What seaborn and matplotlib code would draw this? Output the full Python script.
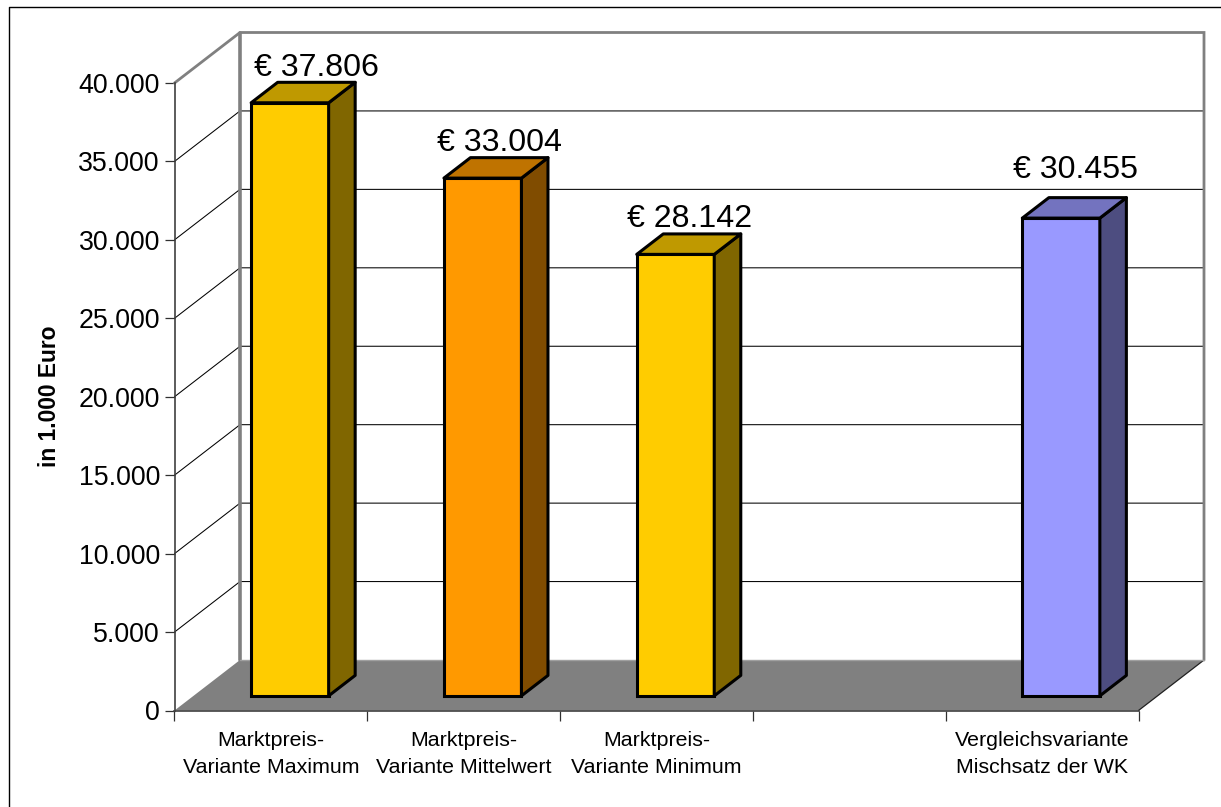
import matplotlib
matplotlib.use("Agg")
import matplotlib.pyplot as plt
import numpy as np
import pandas as pd
import seaborn as sns
from matplotlib.lines import Line2D
from matplotlib.patches import Polygon
from matplotlib.transforms import Affine2D, IdentityTransform

sns.set_theme(style="white")
plt.rcParams["font.family"] = ["Liberation Sans", "DejaVu Sans"]

categories = ["Marktpreis-\nVariante Maximum", "Marktpreis-\nVariante Mittelwert",
              "Marktpreis-\nVariante Minimum", " ",
              "Vergleichsvariante\nMischsatz der WK"]
values = [37806, 33004, 28142, np.nan, 30455]
value_labels = ["€ 37.806", "€ 33.004", "€ 28.142", "", "€ 30.455"]
front_colors = ["#FFCC00", "#FF9900", "#FFCC00", "#FFCC00", "#9999FF"]
top_colors = ["#BF9900", "#BF7300", "#BF9900", "#BF9900", "#7373BF"]
side_colors = ["#806600", "#804C00", "#806600", "#806600", "#4D4D80"]
y_ticks = [0, 5000, 10000, 15000, 20000, 25000, 30000, 35000, 40000]
y_tick_labels = ["0", "5.000", "10.000", "15.000", "20.000", "25.000", "30.000", "35.000", "40.000"]
y_title = "in 1.000 Euro"

W, H = 1221, 807
fig = plt.figure(figsize=(W / 100, H / 100), dpi=100, facecolor="white")
ax = fig.add_axes([174.5 / W, (H - 710.5) / H, 964 / W, 627.5 / H])
ax.patch.set_alpha(0)

df = pd.DataFrame({"cat": categories, "val": values})
sns.barplot(data=df, x="cat", y="val", hue="cat", order=categories, hue_order=categories,
            palette=front_colors, width=0.402, legend=False, dodge=False, ax=ax,
            edgecolor="black", linewidth=2.2, saturation=1, zorder=5)
ax.set_xlim(-0.5, 4.5)
ax.set_ylim(0, 40000)
ax.set_yticks(y_ticks)
ax.set_yticklabels(y_tick_labels, fontsize=19.3, color="black")
ax.set_xticks(np.arange(-0.5, 5.0, 1.0))
ax.set_xticklabels([])
ax.tick_params(axis="both", length=7.5, width=0.9, color="#303030", pad=3, left=True, bottom=True)
ax.set_xlabel("")
ax.set_ylabel("")
for s in ("top", "right"):
    ax.spines[s].set_visible(False)
for s in ("left", "bottom"):
    ax.spines[s].set_color("#404040")
    ax.spines[s].set_linewidth(1.2)
    ax.spines[s].set_zorder(4)

DX, DY = 65.5, 50.5        # pixel shift of the back wall against the front plane
D_FRONT, D_BACK = 0.29, 0.695


def proj(x, y, d):
    px, py = ax.transData.transform((x, y))
    return (px + DX * d, py + DY * d)


def face(pts, **kw):
    kw.setdefault("clip_on", False)
    ax.add_patch(Polygon(pts, closed=True, transform=IdentityTransform(), **kw))


def line(pts, **kw):
    xs, ys = zip(*pts)
    ax.add_line(Line2D(xs, ys, transform=IdentityTransform(), clip_on=False, **kw))


bars = [p for p in ax.patches if np.isfinite(p.get_height()) and p.get_height() > 0]

x0, x1 = ax.get_xlim()
face([proj(x0, 0, 0), proj(x1, 0, 0), proj(x1, 0, 1), proj(x0, 0, 1)],
     facecolor="#808080", edgecolor="none", zorder=1)
line([proj(x1, 0, 0), proj(x1, 0, 1)], color="#202020", lw=0.9, zorder=2)

for t in y_ticks[1:-1]:
    line([proj(x0, t, 0), proj(x0, t, 1), proj(x1, t, 1)], color="black", lw=0.75, zorder=2)
line([proj(x0, y_ticks[-1], 0), proj(x0, y_ticks[-1], 1), proj(x1, y_ticks[-1], 1),
      proj(x1, 0, 1)], color="#808080", lw=2.0, zorder=3, solid_joinstyle="miter")
line([proj(x0, y_ticks[-1], 1), proj(x0, 0, 1)], color="#808080", lw=2.6, zorder=3)
line([proj(x0, 0, 1), proj(x1, 0, 1)], color="#A0A0A0", lw=1.0, zorder=3)

shift = Affine2D().translate(DX * D_FRONT, DY * D_FRONT)
label_nudge = {0: (13, 0), 1: (3, 0), 2: (0, 0), 4: (0, 13)}
idx = [0, 1, 2, 4]
for bar, i in zip(bars, idx):
    xl, xr = bar.get_x(), bar.get_x() + bar.get_width()
    h = bar.get_height()
    bar.set_transform(ax.transData + shift)
    bar.set_clip_on(False)
    bar.set_joinstyle("miter")
    face([proj(xr, 0, D_FRONT), proj(xr, 0, D_BACK), proj(xr, h, D_BACK), proj(xr, h, D_FRONT)],
         facecolor=side_colors[i], edgecolor="black", lw=2.2, zorder=6, joinstyle="round")
    face([proj(xl, h, D_FRONT), proj(xr, h, D_FRONT), proj(xr, h, D_BACK), proj(xl, h, D_BACK)],
         facecolor=top_colors[i], edgecolor="black", lw=2.2, zorder=6, joinstyle="round")
    bx, by = proj((xl + xr) / 2, h, (D_FRONT + D_BACK) / 2)
    nx, ny = label_nudge[i]
    ax.text(bx + nx + 0.7, by + 17 + ny, value_labels[i], transform=IdentityTransform(),
            fontsize=23.1, color="black", ha="center", va="baseline", zorder=8, clip_on=False)

for i, c in enumerate(categories):
    ax.annotate(c, xy=(i, 0), xycoords=("data", "axes fraction"), xytext=(0, -15),
                textcoords="offset points", ha="center", va="top", fontsize=15.4,
                linespacing=1.5, color="black", annotation_clip=False)

fig.text(49 / W, 1 - 396 / H, y_title, rotation=90, ha="center", va="center",
         fontsize=16.4, fontweight="bold", color="black")

fig.add_artist(Line2D([8.5 / W, 8.5 / W, 1], [0, 1 - 6.5 / H, 1 - 6.5 / H],
                      transform=fig.transFigure, color="black", lw=1.0))

fig.savefig("out.png", dpi=100)
